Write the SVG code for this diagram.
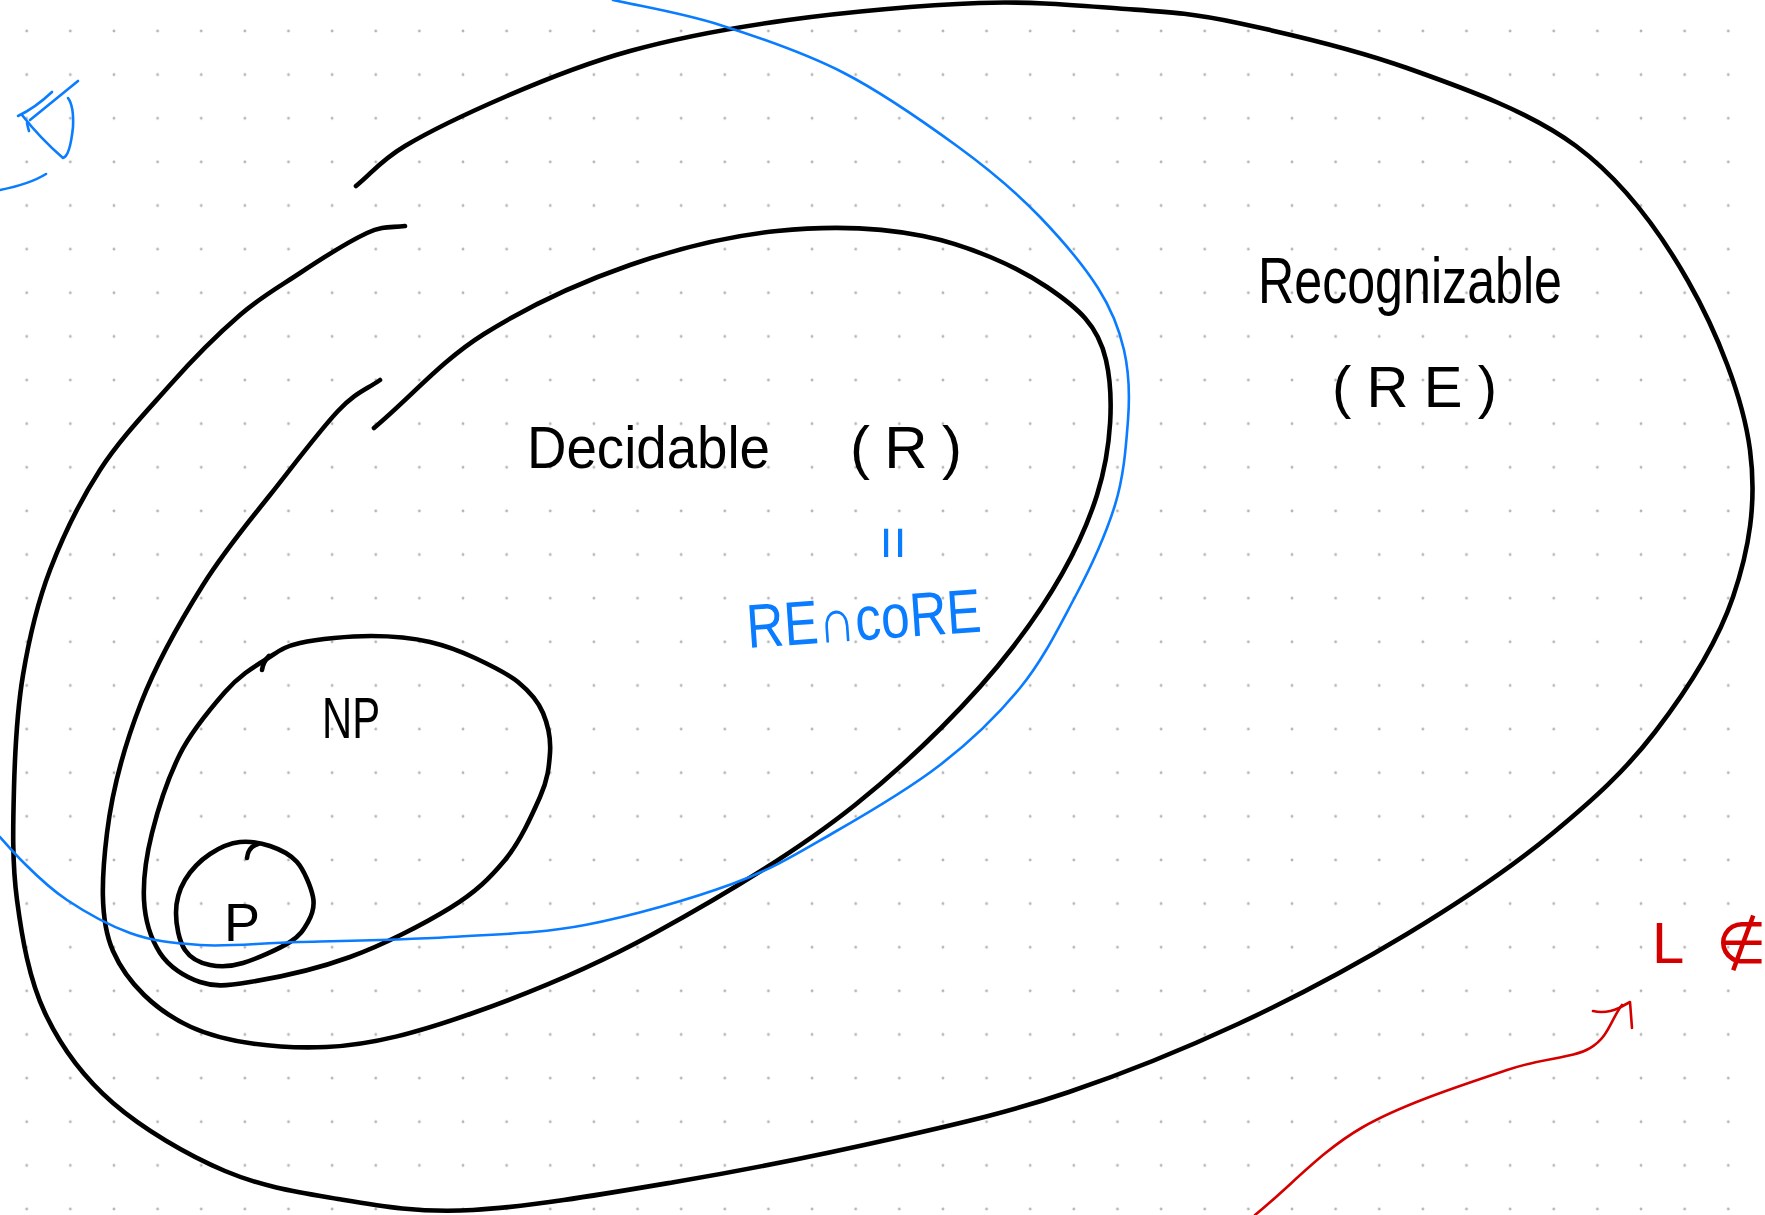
<svg xmlns="http://www.w3.org/2000/svg" width="1765" height="1215" viewBox="0 0 1765 1215">
  <style>
    .ink { fill: none; stroke: #000; stroke-width: 4.6; stroke-linecap: round; stroke-linejoin: round; }
    .blue { fill: none; stroke: #0a7cff; stroke-width: 2.6; stroke-linecap: round; stroke-linejoin: round; }
    .red { fill: none; stroke: #d40000; stroke-width: 2.6; stroke-linecap: round; stroke-linejoin: round; }
    .label { font-family: "Liberation Sans", "DejaVu Sans", sans-serif; fill: #000; }
    .blue-label { font-family: "Liberation Sans", "DejaVu Sans", sans-serif; fill: #0a7cff; }
    .red-label { font-family: "Liberation Sans", "DejaVu Sans", sans-serif; fill: #d40000; }
  </style>
  <defs>
    <pattern id="dots" x="4.9" y="9.2" width="43.63" height="43.63" patternUnits="userSpaceOnUse">
      <circle cx="21.815" cy="21.815" r="1.4" fill="#b4b4b4"/>
    </pattern>
  </defs>

  <!-- paper with dot grid -->
  <rect width="1765" height="1215" fill="#fff"/>
  <rect width="1765" height="1215" fill="url(#dots)"/>

  <!-- Recognizable (RE) -->
  <g id="node-re">
    <path class="ink" d="M356,186 C372,173 380,161 405,146 S470,112 507,96 S583,64 630,51 S730,28 788,20 S923,5 979,3 S1083,6 1126,9 S1191,13 1238,23 S1351,48 1407,68 S1529,111 1576,146 S1659,230 1688,281 S1743,397 1750,450 S1749,550 1733,597 S1685,693 1655,732 S1594,799 1553,833 S1460,902 1407,934 S1294,998 1238,1024 S1125,1073 1069,1092 S966,1122 900,1137 S746,1170 675,1182 S529,1207 473,1210 S379,1206 338,1199 S263,1187 225,1171 S143,1129 113,1103 S61,1047 45,1013 S22,938 17,900 S13,826 14,788 S17,711 23,675 S37,604 50,570 S80,501 100,470 S147,411 170,385 S218,334 240,315 S279,287 300,273 S350,241 367,233 S392,228 405,226"/>
    <text class="label" x="1258" y="303" font-size="64" textLength="304" lengthAdjust="spacingAndGlyphs">Recognizable</text>
    <text class="label" x="1332" y="407" font-size="58" textLength="165" lengthAdjust="spacing">(RE)</text>
  </g>

  <!-- Decidable (R) -->
  <g id="node-r">
    <path class="ink" d="M380,380 C366,390 356,392 338,411 S293,466 270,495 S225,550 203,585 S157,662 141,703 S112,792 107,833 S99,919 113,951 S156,1011 191,1027 S279,1049 326,1047 S419,1032 473,1013 S589,969 653,934 S795,853 855,805 S973,699 1013,647 S1082,543 1097,495 S1114,395 1106,360 S1078,308 1047,287 S968,245 923,236 S826,226 777,231 S679,248 630,265 S527,307 484,334 S411,397 374,428"/>
    <text class="label" font-size="60"><tspan x="527" y="468" textLength="243" lengthAdjust="spacingAndGlyphs">Decidable</tspan> <tspan x="850" y="468" textLength="112" lengthAdjust="spacing">(R)</tspan></text>
  </g>

  <!-- NP -->
  <g id="node-np">
    <path class="ink" d="M300,643 C318,639 349,636 371,636 S413,638 430,642 S460,651 475,658 S507,673 518,682 S538,701 543,713 S551,739 550,753 S548,779 540,797 S520,842 505,860 S476,892 450,908 S383,945 350,957 S275,978 250,982 S215,987 200,982 S169,967 160,953 S145,920 144,900 S146,857 152,833 S168,778 180,754 S211,708 225,692 S252,668 265,660 S282,647 300,643 Z"/>
    <path class="ink" d="M262,670 Q263,662 269,656"/>
    <text class="label" x="322" y="738" font-size="58" textLength="58" lengthAdjust="spacingAndGlyphs">NP</text>
  </g>

  <!-- P -->
  <g id="node-p">
    <path class="ink" d="M240,842 C250,841 261,843 270,846 S290,854 297,862 S311,887 313,897 S312,915 308,922 S301,935 290,942 S256,959 243,963 S220,967 210,965 S191,959 185,950 S176,925 176,913 S179,890 185,880 S201,860 210,854 S230,843 240,842 Z"/>
    <path class="ink" d="M247,858 Q248,847 258,844"/>
    <text class="label" x="224" y="941" font-size="54">P</text>
  </g>

  <!-- RE ∩ coRE boundary label, with the equality mark above it -->
  <g id="node-core">
    <text class="blue-label" x="748" y="648" font-size="62" textLength="235" lengthAdjust="spacingAndGlyphs" transform="rotate(-4 748 648)">RE∩coRE</text>
    <text class="blue-label" x="0" y="0" font-size="58" text-anchor="middle" transform="translate(894 543) rotate(90) translate(0 20)">=</text>
  </g>

  <!-- L ∉ -->
  <g id="node-l">
    <text class="red-label" x="1652" y="963" font-size="58">L <tspan x="1716">∉</tspan></text>
  </g>

  <g id="connectors">
    <!-- blue boundary curve -->
    <path class="blue" d="M613,0 C649,8 682,13 720,25 S805,53 844,73 S924,122 957,146 S1017,193 1040,217 S1084,266 1098,288 S1119,328 1124,350 S1130,394 1128,420 S1124,476 1115,505 S1091,567 1075,597 S1043,660 1020,688 S971,741 940,765 S868,813 833,833 S773,869 732,884 S632,916 585,925 S498,934 450,937 S342,941 300,942 S228,947 200,945 S152,941 130,933 S85,912 67,900 S36,875 25,864 S8,846 0,837"/>
    <!-- blue mark, top left -->
    <path class="blue" d="M18,116 Q35,108 52,92"/>
    <path class="blue" d="M78,81 L30,120"/>
    <path class="blue" d="M22,115 Q40,138 63,158 Q70,156 73,127 Q74,106 68,98"/>
    <path class="blue" d="M27,123 Q28,128 29,131"/>
    <path class="blue" d="M0,190 Q30,184 46,174"/>
    <!-- red arrow -->
    <path class="red" d="M1255,1215 C1291,1186 1321,1151 1363,1127 S1469,1083 1507,1070 S1571,1059 1590,1048 S1611,1019 1622,1005"/>
    <path class="red" d="M1593,1011 Q1606,1014 1619,1008 L1630,1002 L1632,1028"/>
  </g>
</svg>
